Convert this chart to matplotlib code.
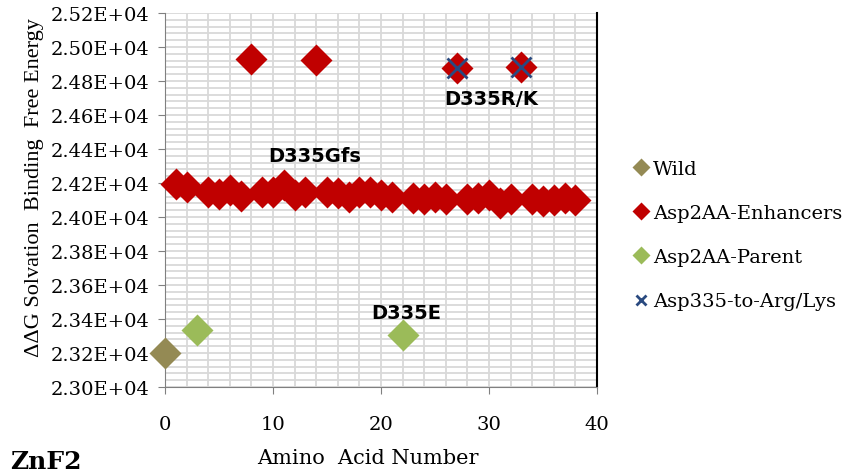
import matplotlib
matplotlib.use("Agg")
import matplotlib.pyplot as plt
from matplotlib.ticker import MultipleLocator, FuncFormatter

# data
wild_x = [0]
wild_y = [23200]

enh_x = [1, 2, 4, 5, 6, 7, 8, 9, 10, 11, 12, 13, 14, 15, 16, 17, 18, 19, 20, 21,
         23, 24, 25, 26, 27, 28, 29, 30, 31, 32, 33, 34, 35, 36, 37, 38]
enh_y = [24195, 24175, 24145, 24135, 24160, 24125, 24927, 24150, 24150, 24190,
         24130, 24145, 24922, 24145, 24140, 24120, 24150, 24145, 24130, 24120,
         24110, 24105, 24115, 24105, 24878, 24105, 24110, 24130, 24080, 24105,
         24880, 24105, 24095, 24100, 24110, 24100]

parent_x = [3, 22]
parent_y = [23333, 23304]

arg_x = [27, 33]
arg_y = [24878, 24880]

# the source picture is stretched sideways, DejaVu Serif is wide enough to fit it
plt.rcParams['font.family'] = ['DejaVu Serif']

fig = plt.figure(figsize=(8.48, 4.77), dpi=100)
ax = fig.add_axes([165 / 848, 1 - 388 / 477, (597 - 165) / 848, (388 - 14) / 477])

ms = 16.5
ax.plot(wild_x, wild_y, 'D', color='#948A54', ms=ms, mec='none', label='Wild', zorder=3, clip_on=False)
ax.plot(enh_x, enh_y, 'D', color='#C00000', ms=ms, mec='none', label='Asp2AA-Enhancers', zorder=3, clip_on=False)
ax.plot(parent_x, parent_y, 'D', color='#9BBB59', ms=ms, mec='none', label='Asp2AA-Parent', zorder=3, clip_on=False)
ax.plot(arg_x, arg_y, 'x', color='#2A4A80', ms=14, mew=2, label='Asp335-to-Arg/Lys', zorder=4, clip_on=False)

ax.set_xlim(0, 40)
ax.set_ylim(23000, 25200)
ax.xaxis.set_major_locator(MultipleLocator(10))
ax.xaxis.set_minor_locator(MultipleLocator(2))
ax.yaxis.set_major_locator(MultipleLocator(200))
ax.yaxis.set_minor_locator(MultipleLocator(40))
ax.yaxis.set_major_formatter(FuncFormatter(lambda v, p: f"{v / 1e4:.2f}E+04"))
ax.grid(which='both', color='#D9D9D9', lw=1.3)
ax.set_axisbelow(True)
ax.tick_params(which='minor', length=0)
ax.tick_params(which='major', length=5, color='#808080', labelsize=14, pad=6)
ax.tick_params(axis='x', which='major', pad=15)

for s in ['left', 'bottom']:
    ax.spines[s].set_color('#808080')
ax.spines['top'].set_visible(False)
ax.spines['right'].set_color('black')
ax.spines['right'].set_linewidth(1.5)

fig.text(368 / 848, 1 - 459 / 477, 'Amino  Acid Number', ha='center', va='center', fontsize=15)
fig.text(35 / 848, 1 - 188 / 477, 'ΔΔG Solvation  Binding  Free Energy', rotation=90,
         ha='center', va='center', fontsize=16, family=['Liberation Serif', 'DejaVu Serif'])

lbl = dict(family=['DejaVu Sans'], fontweight='bold', fontsize=14, ha='center', va='center')
ax.text(13.9, 24360, 'D335Gfs', **lbl)
ax.text(30.2, 24695, 'D335R/K', **lbl)
ax.text(22.3, 23440, 'D335E', **lbl)

fig.text(10 / 848, 1 - 462 / 477, 'ZnF2', fontsize=18, fontweight='bold', va='center')

fig.legend(loc='center left', bbox_to_anchor=(618 / 848, 1 - 236 / 477), frameon=False,
           markerscale=0.55, handlelength=0.6, handletextpad=0.3, labelspacing=1.35,
           fontsize=14)

fig.savefig('out.png', dpi=100)
